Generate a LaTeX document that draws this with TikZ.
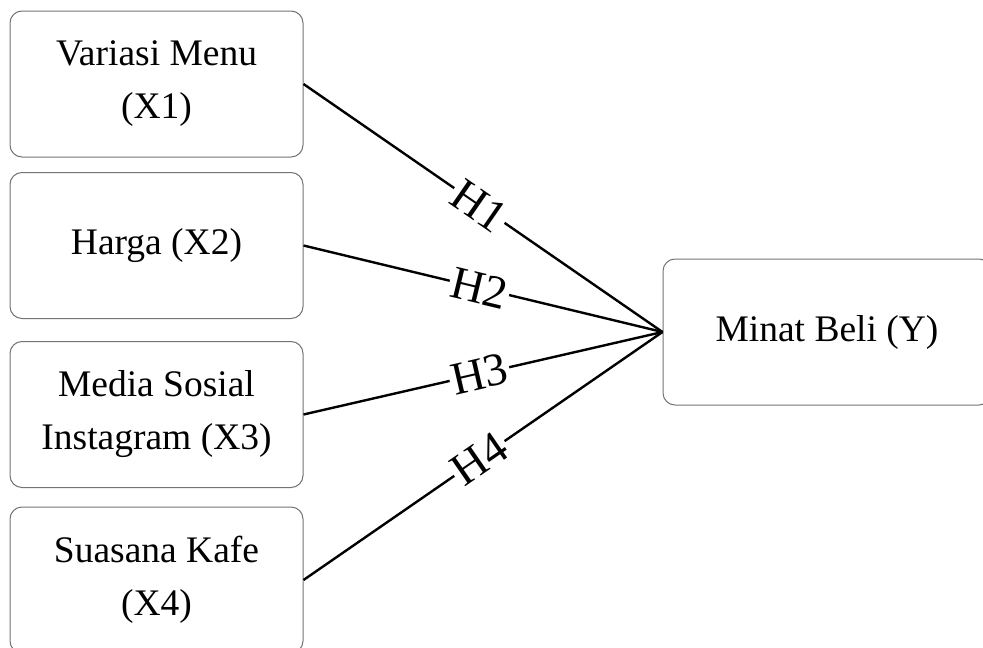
\documentclass[tikz,border=0pt]{standalone}
\usepackage{fontspec}
\setmainfont{Liberation Serif}
\begin{document}
\begin{tikzpicture}[x=1pt,y=-1pt,
  varbox/.style={draw=black!55, line width=1pt, rounded corners=12pt,
    minimum width=293pt, minimum height=146pt, align=center, inner sep=0pt,
    font=\fontsize{37.5}{53}\selectfont},
  link/.style={line width=2.4pt},
  hyp/.style={sloped, fill=white, inner sep=2pt, pos=0.49,
    font=\fontsize{46.5}{54}\selectfont}]
\useasboundingbox (0,0) rectangle (983,648);
\node[varbox] (x1) at (156.5,84) {Variasi Menu\\(X1)};
\node[varbox] (x2) at (156.5,245.5) {Harga (X2)};
\node[varbox] (x3) at (156.5,414.5) {Media Sosial\\Instagram (X3)};
\node[varbox] (x4) at (156.5,580) {Suasana Kafe\\(X4)};
\node[varbox, minimum width=328pt] (y) at (827,332) {Minat Beli (Y)};
\draw[link] (x1.east) -- node[hyp] {H1} (y.west);
\draw[link] (x2.east) -- node[hyp] {H2} (y.west);
\draw[link] (x3.east) -- node[hyp] {H3} (y.west);
\draw[link] (x4.east) -- node[hyp] {H4} (y.west);
\end{tikzpicture}
\end{document}
